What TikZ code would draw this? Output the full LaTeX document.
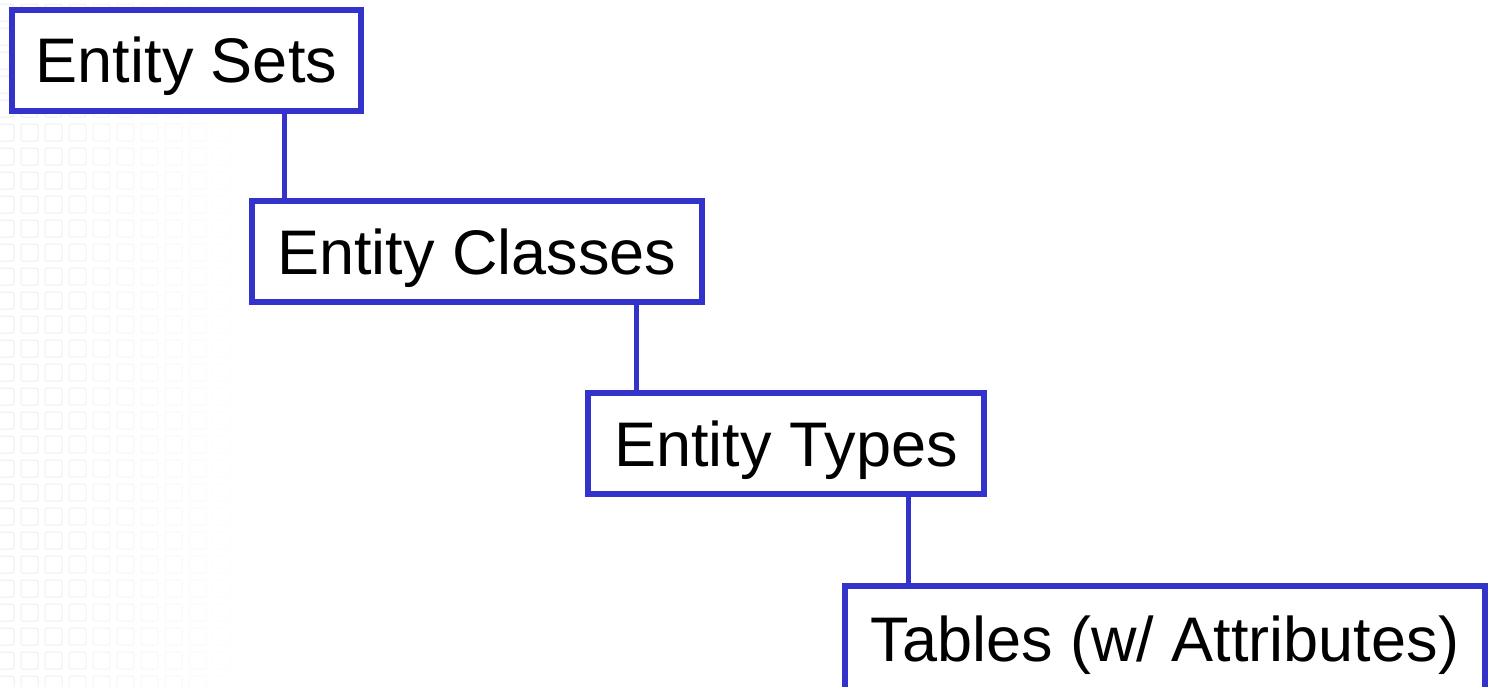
\documentclass[tikz,border=0pt]{standalone}
\usepackage{fontspec}
\setmainfont{Liberation Sans}
\definecolor{boxblue}{RGB}{51,51,204}
\definecolor{gridtint}{RGB}{200,208,226}
\begin{document}
\begin{tikzpicture}[x=1pt,y=-1pt,
  stage/.style={draw=boxblue, line width=6pt, fill=white, minimum height=101pt,
    text height=45pt, text depth=0pt, inner sep=0pt,
    font=\fontsize{63}{70}\selectfont, anchor=center},
  link/.style={draw=boxblue, line width=5pt},
  tile/.style={draw=gridtint, line width=1pt, rounded corners=2pt}]
  \useasboundingbox (0,0) rectangle (1488,686);
  \fill[white] (0,0) rectangle (1488,686);
  % faint tiled backdrop, fading to the right
  \foreach \c in {0,...,10} {
    \foreach \r in {0,...,28} {
      \pgfmathsetmacro\op{max(0,0.38-0.036*\c)}
      \draw[tile, draw opacity=\op] (\c*24-3, \r*24+4) rectangle ++(17,17);
    }
  }
  % the four levels
  \node[stage, minimum width=349pt] (sets)    at (186.5,60)  {Entity Sets};
  \node[stage, minimum width=450pt] (classes) at (477,251.5) {Entity Classes};
  \node[stage, minimum width=396pt] (types)   at (786,443.5) {Entity Types};
  \node[stage, minimum width=640pt, minimum height=107pt] (tables) at (1165,639) {Tables (w/ Attributes)};
  % links between levels
  \coordinate (k1) at (284,0);
  \coordinate (k2) at (636,0);
  \coordinate (k3) at (908,0);
  \draw[link] (sets.south -| k1)    -- (classes.north -| k1);
  \draw[link] (classes.south -| k2) -- (types.north -| k2);
  \draw[link] (types.south -| k3)   -- (tables.north -| k3);
\end{tikzpicture}
\end{document}
